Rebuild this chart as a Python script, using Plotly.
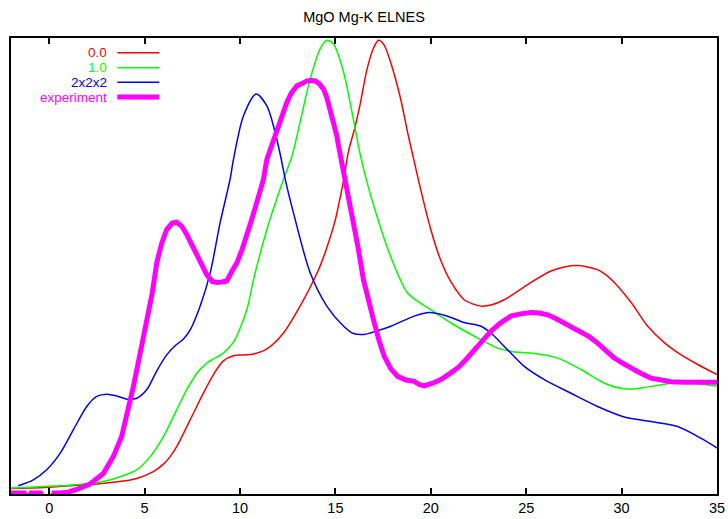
import plotly.graph_objects as go

# Energy axis (eV) and normalised intensities for each calculation
x_00 = [-2.0, -1.0, 0.0, 1.44, 2.5, 3.19, 4.0, 4.59, 5.46, 6.0, 6.34, 6.7, 7.04, 7.56,
        8.08, 8.61, 9.13, 9.66, 10.2, 10.71, 11.41, 12.28, 13.15, 13.7, 14.2, 14.55,
        14.99, 15.2, 15.43, 15.69, 16.0, 16.3, 16.65, 17.0, 17.26, 17.55, 17.87, 18.4,
        18.8, 19.1, 19.4, 20.0, 20.5, 21.06, 21.75, 22.63, 23.2, 23.85, 24.5, 25.25, 26.3,
        27.0, 27.7, 28.2, 28.74, 29.2, 29.62, 30.5, 31.37, 32.24, 33.12, 33.99, 35.0]
y_00 = [0.012, 0.013, 0.015, 0.019, 0.022, 0.025, 0.029, 0.034, 0.049, 0.066, 0.082,
        0.105, 0.133, 0.177, 0.221, 0.262, 0.292, 0.303, 0.305, 0.307, 0.318, 0.353,
        0.412, 0.455, 0.50, 0.54, 0.60, 0.64, 0.688, 0.752, 0.80, 0.855, 0.93, 0.978,
        0.995, 0.985, 0.95, 0.87, 0.79, 0.735, 0.68, 0.58, 0.515, 0.465, 0.426, 0.412,
        0.415, 0.426, 0.443, 0.464, 0.489, 0.498, 0.501, 0.498, 0.492, 0.480, 0.464,
        0.420, 0.368, 0.332, 0.305, 0.284, 0.262]

x_10 = [-2.0, -1.0, 0.0, 0.57, 1.5, 2.32, 3.0, 3.72, 4.59, 5.29, 5.99, 6.69, 7.21, 7.56,
        7.74, 8.26, 8.6, 9.13, 9.66, 10.01, 10.4, 10.71, 11.41, 12.28, 12.72, 13.15,
        13.68, 14.2, 14.55, 14.9, 15.43, 15.95, 16.3, 16.65, 17.18, 17.7, 18.4, 18.78,
        19.4, 20.01, 21.06, 22.28, 23.5, 24.3, 25.25, 26.65, 27.87, 29.1, 30.32, 31.54,
        33.12, 35.0]
y_10 = [0.013, 0.015, 0.017, 0.018, 0.021, 0.024, 0.029, 0.038, 0.053, 0.082, 0.126,
        0.185, 0.229, 0.253, 0.265, 0.287, 0.296, 0.309, 0.333, 0.364, 0.41, 0.470,
        0.580, 0.690, 0.740, 0.815, 0.910, 0.976, 0.995, 0.987, 0.925, 0.82, 0.745,
        0.685, 0.609, 0.543, 0.470, 0.441, 0.42, 0.404, 0.375, 0.346, 0.320, 0.312,
        0.309, 0.298, 0.273, 0.243, 0.230, 0.236, 0.245, 0.236]

x_222 = [-1.62, -0.83, -0.13, 0.57, 1.27, 1.97, 2.49, 3.02, 3.54, 4.07, 4.59, 5.12, 5.64,
         6.16, 6.6, 7.04, 7.39, 7.91, 8.44, 8.96, 9.48, 9.66, 10.18, 10.85, 11.41, 11.8,
         12.11, 12.4, 12.8, 13.68, 14.55, 15.43, 15.95, 16.51, 17.2, 17.91, 19.13, 19.92,
         20.88, 21.75, 22.63, 23.15, 24.03, 24.9, 25.95, 27.35, 28.74, 30.14, 31.54,
         32.94, 34.17, 35.0]
y_222 = [0.018, 0.031, 0.053, 0.089, 0.141, 0.192, 0.214, 0.219, 0.215, 0.208, 0.210,
         0.229, 0.27, 0.305, 0.325, 0.340, 0.360, 0.412, 0.485, 0.595, 0.690, 0.734,
         0.829, 0.877, 0.851, 0.80, 0.745, 0.685, 0.617, 0.485, 0.412, 0.368, 0.352,
         0.350, 0.358, 0.368, 0.390, 0.398, 0.390, 0.376, 0.368, 0.353, 0.316, 0.280,
         0.251, 0.221, 0.192, 0.169, 0.159, 0.148, 0.122, 0.101]

# Measured spectrum
x_exp = [-2.0, -1.3, -1.1, -0.95, -0.45, -0.25, 0.1, 0.25, 0.57, 1.0, 1.44, 2.14, 2.84,
         3.36, 3.8, 4.15, 4.41, 4.68, 4.94, 5.12, 5.4, 5.64, 5.9, 6.16, 6.45, 6.69, 6.95,
         7.21, 7.5, 7.74, 8.0, 8.26, 8.55, 8.79, 9.05, 9.31, 9.6, 9.84, 10.1, 10.36, 10.6,
         10.88, 11.23, 11.41, 11.93, 12.2, 12.46, 12.7, 12.98, 13.25, 13.51, 13.75,
         13.94, 14.15, 14.38, 14.55, 14.73, 15.08, 15.16, 15.34, 15.51, 15.87, 16.21,
         16.47, 16.75, 17.04, 17.3, 17.56, 17.9, 18.26, 18.7, 19.13, 19.4, 19.66, 20.1,
         20.53, 21.0, 21.4, 21.85, 22.28, 22.7, 23.15, 23.65, 24.2, 24.7, 25.25, 25.7,
         26.12, 26.55, 26.99, 27.4, 27.87, 28.3, 28.74, 29.2, 29.62, 30.05, 30.5, 31.0,
         31.54, 32.05, 32.59, 33.3, 33.99, 34.5, 35.0]
y_exp = [0.002, 0.002, -0.012, 0.002, 0.002, -0.012, -0.012, 0.002, 0.002, 0.004, 0.010,
         0.022, 0.045, 0.082, 0.126, 0.185, 0.235, 0.29, 0.345, 0.375, 0.44, 0.507, 0.55,
         0.580, 0.594, 0.596, 0.587, 0.569, 0.545, 0.522, 0.50, 0.481, 0.466, 0.464,
         0.465, 0.467, 0.49, 0.507, 0.535, 0.565, 0.60, 0.639, 0.690, 0.734, 0.800, 0.83,
         0.859, 0.88, 0.895, 0.90, 0.906, 0.907, 0.906, 0.90, 0.888, 0.87, 0.844, 0.785,
         0.765, 0.728, 0.683, 0.609, 0.536, 0.470, 0.42, 0.375, 0.335, 0.302, 0.275,
         0.258, 0.250, 0.247, 0.240, 0.237, 0.243, 0.251, 0.264, 0.276, 0.295, 0.316,
         0.338, 0.357, 0.375, 0.390, 0.395, 0.398, 0.397, 0.393, 0.385, 0.375, 0.368,
         0.357, 0.345, 0.331, 0.315, 0.298, 0.287, 0.276, 0.265, 0.254, 0.249, 0.246,
         0.245, 0.245, 0.244, 0.245]

names = ["0.0", "1.0", "2x2x2", "experiment"]
colors = ["#ff0000", "#00ff00", "#0000ff", "#ff00ff"]
widths = [1.5, 1.5, 1.5, 5]
xticks = [0, 5, 10, 15, 20, 25, 30, 35]

FONT = "Liberation Sans, Arial, sans-serif"
W, H = 728, 519
ML, MR, MT, MB = 11, 11, 38, 25

fig = go.Figure()
series = [(x_00, y_00), (x_10, y_10), (x_222, y_222), (x_exp, y_exp)]
for (xs, ys), name, c, w in zip(series, names, colors, widths):
    shape = "linear" if name == "experiment" else "spline"
    fig.add_trace(go.Scatter(x=xs, y=ys, mode="lines", name=name,
                             line=dict(color=c, width=w, shape=shape, smoothing=0.8),
                             showlegend=False))

# Key in the upper-left corner: label on the left, line sample on the right
pw, ph = W - ML - MR, H - MT - MB
row_px = [52.7, 67.7, 82.2, 97.0]
for name, c, w, py in zip(names, colors, widths, row_px):
    yp = (H - MB - py) / ph
    fig.add_annotation(x=(108.7 - ML) / pw, y=yp, xref="paper", yref="paper",
                       text=name, showarrow=False, xanchor="right", yanchor="middle",
                       font=dict(family=FONT, size=13.5, color=c))
    fig.add_shape(type="line", xref="paper", yref="paper",
                  x0=(117.3 - ML) / pw, x1=(159.3 - ML) / pw, y0=yp, y1=yp,
                  line=dict(color=c, width=w))

fig.update_layout(
    width=W, height=H,
    margin=dict(l=ML, r=MR, t=MT, b=MB, autoexpand=False),
    paper_bgcolor="white", plot_bgcolor="white",
    title=dict(text="MgO Mg-K ELNES", x=0.5, xanchor="center",
               y=1 - 17 / H, yanchor="middle",
               font=dict(family=FONT, size=14.5, color="black")),
    font=dict(family=FONT, size=14.5, color="black"),
    xaxis=dict(range=[-2, 35], tickvals=xticks, ticktext=[str(t) for t in xticks],
               ticks="inside", ticklen=6, tickwidth=2, tickcolor="black",
               showline=True, linewidth=2, linecolor="black", mirror="ticks",
               showgrid=False, zeroline=False, automargin=False,
               tickfont=dict(family=FONT, size=14.5, color="black")),
    yaxis=dict(range=[0, 1], showticklabels=False, ticks="",
               showline=True, linewidth=2, linecolor="black", mirror=True,
               showgrid=False, zeroline=False, automargin=False),
)

fig.write_html("out.html")
